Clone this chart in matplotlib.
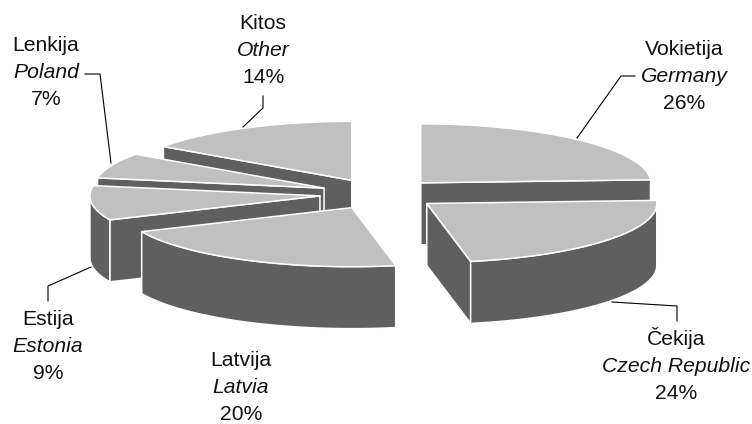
"""Exploded 3D pie of trade partners, drawn from polygons."""

import matplotlib

matplotlib.use("Agg")
import matplotlib.pyplot as plt
import numpy as np
from matplotlib.patches import Polygon

plt.rcParams["font.family"] = ["Liberation Sans", "DejaVu Sans"]

# clockwise from 12 o'clock
names_lt = ["Vokietija", "Čekija", "Latvija", "Estija", "Lenkija", "Kitos"]
names_en = ["Germany", "Czech Republic", "Latvia", "Estonia", "Poland", "Other"]
percent = [26, 24, 20, 9, 7, 14]
# the slices as drawn in the picture do not quite follow the labels (degrees)
sweep_deg = [87, 82, 77, 34, 25, 55]

label_x = [684, 676, 241, 48, 46, 263]
label_y = [55, 345, 366, 325, 51, 29]
leaders = [
    [(577, 138), (621, 76), (635, 76)],
    [(612, 302), (677, 306), (677, 321)],
    None,
    [(91, 267), (48, 286), (48, 301)],
    [(111, 163), (100, 74), (85, 74)],
    [(243, 127), (263, 108), (263, 96)],
]
draw_order = [0, 5, 4, 3, 2, 1]

CX, CY = 379.5, 194
RX, RY = 230, 59
DEPTH = 62
EXPLODE = 60
TOP = "#c0c0c0"
SIDE = "#5f5f5f"
EDGE = 1.1
LINE_STEP = 27.2


def rim(apex, deg):
    t = np.radians(deg)
    return np.column_stack([apex[0] + RX * np.sin(t), apex[1] - RY * np.cos(t)])


def face(ax, pts, color, z):
    ax.add_patch(Polygon(pts, closed=True, facecolor=color, edgecolor="white",
                         linewidth=EDGE, joinstyle="round", zorder=z))


def draw_slice(ax, start, end, z):
    mid = np.radians((start + end) / 2)
    apex = (CX + EXPLODE * np.sin(mid), CY - EXPLODE * RY / RX * np.cos(mid))
    down = np.array([0, DEPTH])
    arc = np.linspace(start, end, 80)
    rim_pts = rim(apex, arc)

    # radial walls, only when they face the viewer
    for deg, show in ((start, np.sin(np.radians(start)) < -1e-6),
                      (end, np.sin(np.radians(end)) > 1e-6)):
        if show:
            p = rim(apex, np.array([deg]))[0]
            face(ax, [apex, p, p + down, np.array(apex) + down], SIDE, z)

    # curved outer wall, front half only
    lo, hi = max(start, 90), min(end, 270)
    if hi > lo:
        front = rim(apex, np.linspace(lo, hi, 80))
        face(ax, np.vstack([front, (front + down)[::-1]]), SIDE, z)

    face(ax, np.vstack([[apex], rim_pts]), TOP, z + 0.5)


fig = plt.figure(figsize=(7.52, 4.24), dpi=100)
ax = fig.add_axes([0, 0, 1, 1])
ax.set_xlim(0, 752)
ax.set_ylim(424, 0)
ax.axis("off")

edges = np.concatenate([[0], np.cumsum(sweep_deg)])
for z, i in enumerate(draw_order):
    draw_slice(ax, edges[i], edges[i + 1], z + 1)

for i in range(len(percent)):
    x, y = label_x[i], label_y[i]
    ax.text(x, y, names_lt[i], fontsize=15.2, ha="center", va="baseline", color="#111111")
    ax.text(x, y + LINE_STEP, names_en[i], fontsize=15.2, style="italic", ha="center", va="baseline", color="#111111")
    ax.text(x, y + 2 * LINE_STEP, f"{percent[i]}%", fontsize=15.2, ha="center", va="baseline", color="#111111")
    if leaders[i]:
        xs, ys = zip(*leaders[i])
        ax.plot(xs, ys, color="black", linewidth=0.8, zorder=20)

fig.savefig("out.png", dpi=100)
plt.close(fig)
